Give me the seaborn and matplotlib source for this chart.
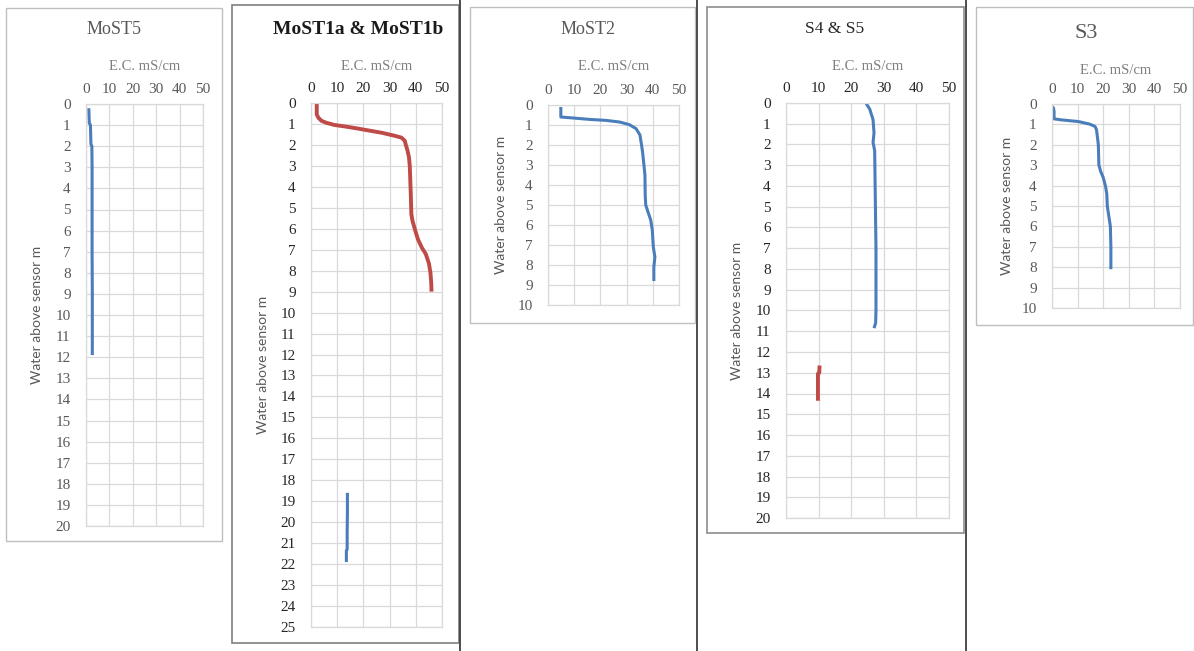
import matplotlib
matplotlib.use("Agg")
import matplotlib.pyplot as plt
from matplotlib.lines import Line2D
from matplotlib.patches import Rectangle
import seaborn as sns

# ---- data: EC profiles (mS/cm) against water depth above the sensor (m) ----
most5_depth = [0.2, 0.9, 1.0, 1.9, 2.0, 3.0, 5.0, 7.0, 9.0, 11.0, 11.9]
most5_ec = [1.2, 1.4, 1.9, 2.1, 2.5, 2.6, 2.6, 2.6, 2.7, 2.7, 2.7]

most1a_depth = [0.0, 0.55, 0.7, 0.85, 0.95, 1.05, 1.12, 1.2, 1.3, 1.42, 1.55,
                1.65, 1.8, 2.0, 2.3, 2.6, 3.0, 3.7, 4.4, 5.3, 5.6, 6.05, 6.5,
                6.9, 7.2, 7.65, 8.1, 8.6, 9.0]
most1a_ec = [2.2, 2.2, 2.8, 4.0, 6.0, 9.0, 13.0, 17.0, 21.5, 27.0, 31.5,
             34.5, 35.8, 36.2, 36.9, 37.4, 37.7, 37.9, 38.1, 38.3, 38.7, 39.7,
             40.8, 42.3, 43.8, 45.0, 45.6, 45.9, 46.0]
most1b_depth = [18.6, 19.5, 20.5, 21.3, 21.35, 21.9]
most1b_ec = [13.9, 13.9, 13.8, 13.8, 13.5, 13.5]

most2_depth = [0.1, 0.6, 0.65, 0.72, 0.77, 0.85, 0.98, 1.18, 1.5, 2.0, 2.35,
               2.85, 3.5, 4.5, 5.0, 5.4, 5.75, 6.25, 7.1, 7.6, 8.1, 8.8]
most2_ec = [4.9, 4.9, 9.6, 15.9, 22.2, 27.3, 31.0, 33.6, 35.1, 35.7, 36.1,
            36.5, 37.0, 37.1, 37.3, 38.3, 39.2, 39.8, 40.2, 40.8, 40.4, 40.4]

s4_depth = [0.0, 0.3, 0.8, 1.45, 1.9, 2.3, 4.7, 7.0, 9.0, 10.0, 10.6, 10.85]
s4_ec = [24.5, 25.7, 26.7, 27.0, 26.7, 27.2, 27.4, 27.6, 27.6, 27.6, 27.5, 27.0]
s5_depth = [12.65, 13.0, 13.05, 14.35]
s5_ec = [10.3, 10.2, 9.8, 9.8]

s3_depth = [0.13, 0.2, 0.37, 0.73, 0.78, 0.86, 0.99, 1.1, 1.27, 2.0, 2.98,
            3.3, 3.6, 4.03, 4.4, 5.0, 5.5, 6.0, 7.0, 8.1]
s3_ec = [0.1, 0.6, 0.8, 0.8, 3.8, 10.3, 14.8, 16.8, 17.4, 18.1, 18.3,
         19.0, 20.0, 20.9, 21.4, 21.6, 22.2, 22.8, 23.0, 23.0]

ec_ticks = [0, 10, 20, 30, 40, 50]
x_title = "E.C. mS/cm"
y_title = "Water above sensor m"

BLUE = "#4A7EBB"
RED = "#BE4B48"
GRID = "#D9D9D9"

sns.set_theme(style="white")
plt.rcParams["font.family"] = ["Liberation Serif", "DejaVu Serif"]

W, H = 1194, 651
fig = plt.figure(figsize=(W / 100, H / 100), dpi=100)
fig.patch.set_facecolor("white")


def fx(x):
    return x / W


def fy(y):
    return 1 - y / H


def frame(l, t, r, b, color, lw):
    fig.patches.append(Rectangle((fx(l), fy(b)), fx(r - l), (b - t) / H,
                                 transform=fig.transFigure, fill=False,
                                 edgecolor=color, linewidth=lw, zorder=0))


def vline(x, t, b, color="#3F3F3F", lw=1.3):
    fig.lines.append(Line2D([fx(x), fx(x)], [fy(t), fy(b)],
                            transform=fig.transFigure, color=color, lw=lw))


def panel(box, title, title_kw, ymax, series, tick_color, ylab_x, title_xy,
          xlab_y=67):
    l, t, r, b = box
    ax = fig.add_axes([fx(l), fy(b), fx(r - l), (b - t) / H])
    for depth, ec, color, lw in series:
        sns.lineplot(x=ec, y=depth, sort=False, estimator=None, color=color,
                     linewidth=lw, ax=ax, solid_capstyle="butt")
    ax.set_xlim(0, 50)
    ax.set_ylim(ymax, 0)
    ax.set_xticks(ec_ticks)
    ax.set_yticks(range(0, ymax + 1))
    ax.xaxis.tick_top()
    ax.tick_params(axis="x", length=0, pad=6, labelsize=11,
                   labelcolor=tick_color)
    ax.tick_params(axis="y", length=0, pad=11, labelsize=11,
                   labelcolor=tick_color)
    ax.grid(True, color=GRID, linewidth=0.9)
    ax.set_axisbelow(True)
    for sp in ax.spines.values():
        sp.set_color(GRID)
        sp.set_linewidth(0.9)
    ax.set_xlabel("")
    ax.set_ylabel("")
    fig.text(fx((l + r) / 2), fy(xlab_y), x_title, ha="center", va="center",
             fontsize=10.5, color="#7F7F7F")
    fig.text(fx(ylab_x), fy((t + b) / 2), y_title, rotation=90, ha="center",
             va="center", fontsize=10, color="#595959",
             family=["Lato", "DejaVu Sans"])
    fig.text(fx(title_xy[0]), fy(title_xy[1]), title, ha="center",
             va="center", **title_kw)
    return ax


# chart frames and column separators
frame(6, 8, 222, 541, "#BFBFBF", 1.0)
frame(232, 5, 459, 643, "#7F7F7F", 1.2)
frame(470, 7, 695, 323, "#BFBFBF", 1.0)
frame(707, 7, 964, 533, "#8C8C8C", 1.2)
frame(976, 7, 1193, 325, "#BFBFBF", 1.0)
vline(460, 0, 651)
vline(697, 0, 651)
vline(966, 0, 651)

panel((86, 104, 203, 526), "MoST5",
      dict(fontsize=13, color="#595959"), 20,
      [(most5_depth, most5_ec, BLUE, 2.2)], "#595959", 37, (114, 29))

panel((311, 103, 442, 627), "MoST1a & MoST1b",
      dict(fontsize=14, color="#1A1A1A", fontweight="bold"), 25,
      [(most1a_depth, most1a_ec, RED, 2.8),
       (most1b_depth, most1b_ec, BLUE, 2.2)], "#262626", 263, (358, 29))

panel((548, 105, 679, 305), "MoST2",
      dict(fontsize=13, color="#595959"), 10,
      [(most2_depth, most2_ec, BLUE, 2.2)], "#595959", 501, (588, 29))

panel((786, 103, 949, 518), "S4 & S5",
      dict(fontsize=12.5, color="#262626"), 20,
      [(s4_depth, s4_ec, BLUE, 2.2),
       (s5_depth, s5_ec, RED, 2.8)], "#262626", 737, (835, 29), xlab_y=67)

panel((1052, 104, 1180, 308), "S3",
      dict(fontsize=16, color="#595959"), 10,
      [(s3_depth, s3_ec, BLUE, 2.2)], "#595959", 1007, (1086, 34), xlab_y=70)

fig.savefig("out.png", dpi=100, facecolor="white")
